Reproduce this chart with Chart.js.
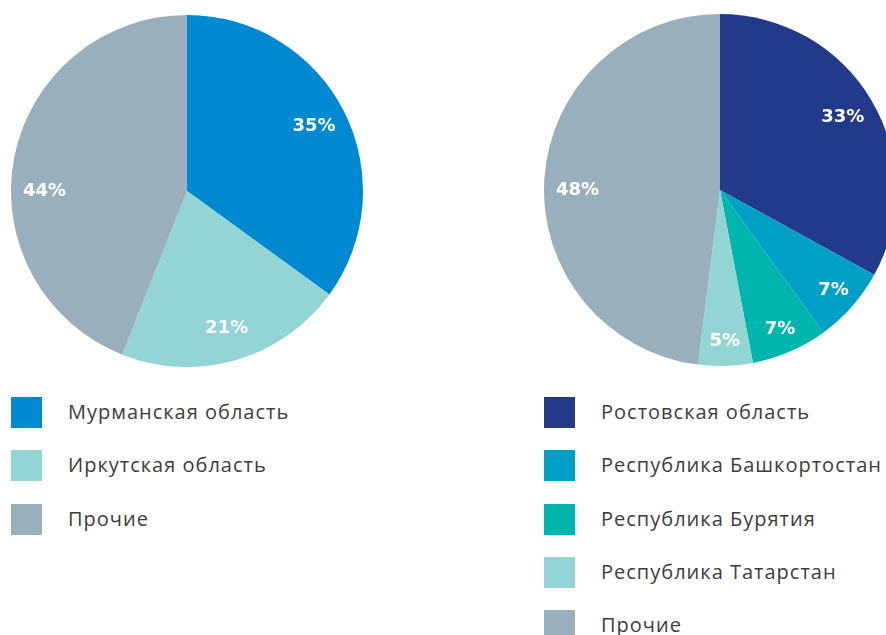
<!DOCTYPE html>
<html>
<head>
<meta charset="utf-8">
<script src="https://cdn.jsdelivr.net/npm/chart.js@4"></script>
<style>
  html, body { margin: 0; padding: 0; background: #fff; overflow: hidden; width: 886px; height: 635px; }
  .pie { position: absolute; }
  .legend { position: absolute; font-family: "Open Sans", "Lato", sans-serif; font-size: 20px; letter-spacing: 1px; color: #3d3d3d; }
  .legend-row { position: absolute; left: 0; white-space: nowrap; height: 31px; }
  .legend-row span.box { position: absolute; left: 0; top: 0; width: 31px; height: 31px; }
  .legend-row span.txt { position: absolute; left: 57px; top: 1px; }
</style>
</head>
<body>
<canvas id="left-chart" class="pie" width="352" height="352" style="left:11px; top:15px;"></canvas>
<canvas id="right-chart" class="pie" width="352" height="352" style="left:544px; top:14px;"></canvas>
<div id="left-legend" class="legend" style="left:11px; top:397px;"></div>
<div id="right-legend" class="legend" style="left:544px; top:397px;"></div>

<script>
// Left chart data
const leftLabels = ["Мурманская область", "Иркутская область", "Прочие"];
const leftValues = [35, 21, 44];
const leftColors = ["#0088d0", "#93d5d5", "#99b0bc"];

// Right chart data
const rightLabels = ["Ростовская область", "Республика Башкортостан", "Республика Бурятия", "Республика Татарстан", "Прочие"];
const rightValues = [33, 7, 7, 5, 48];
const rightColors = ["#233a8a", "#009fc6", "#00b5ad", "#93d5d5", "#99b0bc"];

// Draws the percentage text inside each slice
const percentLabels = {
  id: "percentLabels",
  afterDatasetsDraw(chart) {
    const ctx = chart.ctx;
    const meta = chart.getDatasetMeta(0);
    const values = chart.data.datasets[0].data;
    ctx.save();
    ctx.fillStyle = "#ffffff";
    ctx.font = "bold 18px 'DejaVu Sans', sans-serif";
    ctx.textAlign = "center";
    ctx.textBaseline = "middle";
    meta.data.forEach((arc, i) => {
      const p = arc.getProps(["x", "y", "startAngle", "endAngle", "outerRadius"], true);
      let mid = (p.startAngle + p.endAngle) / 2;
      // big slices that cover the left side get their label at 9 o'clock
      if (p.startAngle < Math.PI && p.endAngle > Math.PI) mid = Math.PI;
      const r = p.outerRadius * (values[i] < 10 ? 0.86 : 0.81);
      ctx.fillText(values[i] + "%", p.x + Math.cos(mid) * r, p.y + Math.sin(mid) * r);
    });
    ctx.restore();
  }
};

function makePie(id, labels, values, colors) {
  return new Chart(document.getElementById(id), {
    type: "pie",
    data: {
      labels: labels,
      datasets: [{
        data: values,
        backgroundColor: colors,
        borderWidth: 0,
        hoverBorderWidth: 0,
        hoverOffset: 0
      }]
    },
    options: {
      responsive: false,
      animation: false,
      layout: { padding: 0 },
      plugins: {
        legend: { display: false },
        tooltip: { enabled: false }
      }
    },
    plugins: [percentLabels]
  });
}

function makeLegend(id, labels, colors) {
  const box = document.getElementById(id);
  labels.forEach((label, i) => {
    const row = document.createElement("div");
    row.className = "legend-row";
    row.style.top = Math.round(i * 53.3) + "px";
    row.innerHTML = `<span class="box" style="background:${colors[i]}"></span><span class="txt">${label}</span>`;
    box.appendChild(row);
  });
}

makePie("left-chart", leftLabels, leftValues, leftColors);
makePie("right-chart", rightLabels, rightValues, rightColors);
makeLegend("left-legend", leftLabels, leftColors);
makeLegend("right-legend", rightLabels, rightColors);
</script>
</body>
</html>
